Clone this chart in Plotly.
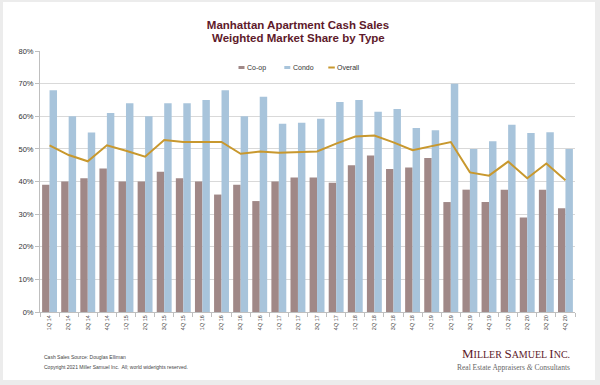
import plotly.graph_objects as go

quarters = ["1Q 14","2Q 14","3Q 14","4Q 14","1Q 15","2Q 15","3Q 15","4Q 15",
            "1Q 16","2Q 16","3Q 16","4Q 16","1Q 17","2Q 17","3Q 17","4Q 17",
            "1Q 18","2Q 18","3Q 18","4Q 18","1Q 19","2Q 19","3Q 19","4Q 19",
            "1Q 20","2Q 20","3Q 20","4Q 20"]
coop = [39, 40, 41, 44, 40, 40, 43, 41, 40, 36, 39, 34, 40, 41.2, 41.2, 39.6,
        45, 48, 43.8, 44.3, 47.2, 33.7, 37.5, 33.7, 37.5, 29, 37.5, 31.8]
condo = [68, 60, 55, 61, 64, 60, 64, 64, 65, 68, 60, 66, 57.7, 58, 59.2, 64.4,
         65, 61.4, 62.2, 56.4, 55.7, 70, 50, 52.3, 57.4, 54.9, 55.1, 50]
overall = [51.1, 48.1, 46.2, 51.1, 49.4, 47.6, 52.7, 52.1, 52.1, 52.1, 48.5, 49.2,
           48.8, 49.1, 49.2, 51.6, 53.8, 54.1, 52, 49.6, 50.9, 52.1, 42.8, 41.8,
           46.1, 41, 45.5, 40.4]
series_names = ["Co-op", "Condo", "Overall"]
series_colors = ["#a08887", "#a8c4db", "#c8982e"]

fig = go.Figure()
fig.add_trace(go.Bar(x=quarters, y=[v/100 for v in coop], name=series_names[0],
                     marker=dict(color=series_colors[0], line=dict(width=0))))
fig.add_trace(go.Bar(x=quarters, y=[v/100 for v in condo], name=series_names[1],
                     marker=dict(color=series_colors[1], line=dict(width=0))))
fig.add_trace(go.Scatter(x=quarters, y=[v/100 for v in overall], name=series_names[2],
                         mode="lines", line=dict(color=series_colors[2], width=2)))

L, R, T, B = 40, 25, 51, 73
W, H = 600, 385
pw, ph = W - L - R, H - T - B

def px_x(px):
    return (px - L) / pw

def px_y(py):
    return (H - B - py) / ph

# manual legend (compact, like the original)
leg_y = 67.5
leg_sym_x = [238.5, 284.3, 328.3]
leg_txt_x = [245.0, 290.8, 334.8]
shapes = [dict(type="rect", xref="paper", yref="paper", layer="below",
               x0=px_x(3), x1=px_x(595), y0=px_y(380), y1=px_y(2),
               fillcolor="white", line=dict(width=0))]
for i in range(2):
    shapes.append(dict(type="rect", xref="paper", yref="paper",
                       x0=px_x(leg_sym_x[i]), x1=px_x(leg_sym_x[i] + 6),
                       y0=px_y(leg_y + 1.5), y1=px_y(leg_y - 1.5),
                       fillcolor=series_colors[i], line=dict(width=0)))
shapes.append(dict(type="line", xref="paper", yref="paper",
                   x0=px_x(leg_sym_x[2]), x1=px_x(leg_sym_x[2] + 6.5),
                   y0=px_y(leg_y), y1=px_y(leg_y),
                   line=dict(color=series_colors[2], width=2)))

annotations = []
for i in range(3):
    annotations.append(dict(text=series_names[i], xref="paper", yref="paper",
                            x=px_x(leg_txt_x[i]), y=px_y(leg_y), xanchor="left",
                            yanchor="middle", showarrow=False,
                            font=dict(size=7, color="#333333")))

annotations += [
    dict(text="<b>Weighted Market Share by Type</b>", xref="paper", yref="paper",
         x=px_x(298), y=px_y(37.5), xanchor="center", yanchor="middle",
         showarrow=False,
         font=dict(family="Liberation Sans, Arial", size=11.5, color="#5e1a2b")),
    dict(text="Cash Sales Source: Douglas Elliman", xref="paper", yref="paper",
         x=px_x(42), y=px_y(357), xanchor="left", yanchor="middle", showarrow=False,
         font=dict(size=5, color="#444444")),
    dict(text="Copyright 2021 Miller Samuel Inc.  All; world widerights reserved.",
         xref="paper", yref="paper", x=px_x(42), y=px_y(367), xanchor="left",
         yanchor="middle", showarrow=False, font=dict(size=5, color="#444444")),
    dict(text="<span style='font-size:13px'>M</span>ILLER <span style='font-size:13px'>S</span>AMUEL <span style='font-size:13px'>I</span>NC.",
         xref="paper", yref="paper", x=px_x(572), y=px_y(353), xanchor="right",
         yanchor="middle", showarrow=False,
         font=dict(family="Liberation Serif, Times New Roman, serif", size=10,
                   color="#5e1a2b")),
    dict(text="Real Estate Appraisers <i>&amp;</i> Consultants",
         xref="paper", yref="paper", x=px_x(572), y=px_y(367.5), xanchor="right",
         yanchor="middle", showarrow=False,
         font=dict(family="Liberation Serif, Times New Roman, serif", size=7.5,
                   color="#666666")),
]

fig.update_layout(
    width=W, height=H,
    margin=dict(l=L, r=R, t=T, b=B),
    paper_bgcolor="#ececec",
    plot_bgcolor="white",
    barmode="group", bargap=0.22, bargroupgap=0,
    font=dict(family="Liberation Sans, Arial", size=7, color="#333333"),
    title=dict(text="Manhattan Apartment Cash Sales",
               x=298/W, xref="container", xanchor="center",
               y=1 - 25/H, yref="container", yanchor="middle",
               font=dict(family="Liberation Sans, Arial", size=11.5, color="#5e1a2b",
                         weight="bold")),
    showlegend=False,
    xaxis=dict(type="category", tickangle=-90, tickfont=dict(size=5.5, color="#444444"),
               showgrid=False, showline=True, linecolor="#bfbfbf", linewidth=1,
               ticks="outside", tickson="boundaries", ticklen=4, tickcolor="#bfbfbf",
               range=[-0.5, 27.5]),
    yaxis=dict(range=[0, 0.8], dtick=0.1, tickformat=".0%", showgrid=True,
               gridcolor="#d9d9d9", gridwidth=1, showline=True, linecolor="#bfbfbf",
               ticks="outside", ticklen=4, tickcolor="#bfbfbf", zeroline=False,
               tickfont=dict(size=7.5, color="#333333")),
    shapes=shapes,
    annotations=annotations,
)

fig.write_html("out.html", config={"displayModeBar": False},
               post_script="document.body.style.margin='0';document.body.style.padding='0';document.body.style.overflow='hidden';")
